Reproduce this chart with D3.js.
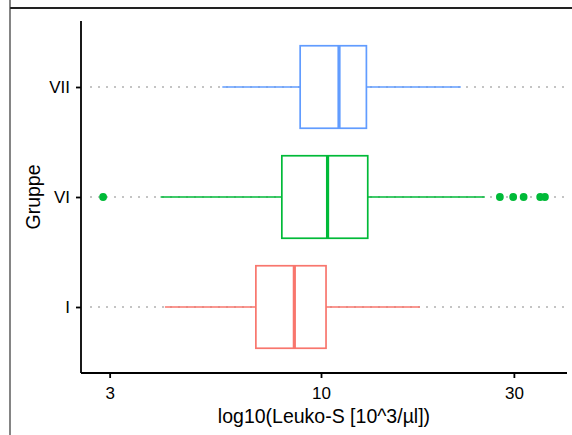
<!DOCTYPE html>
<html>
<head>
<meta charset="utf-8">
<script src="https://cdn.jsdelivr.net/npm/d3@7"></script>
<style>
  html, body { margin: 0; padding: 0; background: #fff; }
  svg { display: block; font-family: "Liberation Sans", Arial, sans-serif; }
</style>
</head>
<body>
<svg id="chart" width="572" height="435"></svg>
<script>
// Box-plot summary per group (values in 10^3/µl)
const groups = ["I", "VI", "VII"];
const colors = ["#F8766D", "#00BA38", "#619CFF"];
const lowerWhisker = [4.11, 4.01, 5.70];
const q1 = [6.90, 8.00, 8.88];
const median = [8.59, 10.38, 11.08];
const q3 = [10.29, 13.05, 12.95];
const upperWhisker = [17.57, 25.42, 22.17];
// Outlying observations (only group VI has any)
const outlierGroup = ["VI", "VI", "VI", "VI", "VI", "VI"];
const outlierValue = [2.89, 27.70, 29.88, 31.71, 34.85, 35.80];
const xTicks = [3, 10, 30];

const svg = d3.select("#chart");
const W = 572, H = 435;
const panel = { left: 81, right: 567, top: 21, bottom: 373 };

// Frame lines around the figure region
svg.append("line").attr("x1", 10).attr("x2", W).attr("y1", 8).attr("y2", 8)
  .attr("stroke", "#222").attr("stroke-width", 2);
svg.append("line").attr("x1", 10).attr("x2", 10).attr("y1", 0).attr("y2", H)
  .attr("stroke", "#333").attr("stroke-width", 1.2);

// Log x-scale with 5% expansion of the data range (in log space)
const allVals = lowerWhisker.concat(upperWhisker, outlierValue);
const lmin = Math.log10(d3.min(allVals)), lmax = Math.log10(d3.max(allVals));
const pad = (lmax - lmin) * 0.05;
const x = d3.scaleLog()
  .domain([Math.pow(10, lmin - pad), Math.pow(10, lmax + pad)])
  .range([panel.left, panel.right]);

const y = d3.scalePoint()
  .domain(["VII", "VI", "I"])
  .range([panel.top, panel.bottom])
  .padding(0.6);
const boxH = y.step() * 0.75;

// Dotted reference line at each group
svg.append("g").selectAll("line").data(groups).join("line")
  .attr("x1", panel.left + 9).attr("x2", panel.right)
  .attr("y1", d => y(d)).attr("y2", d => y(d))
  .attr("stroke", "#c4c4c4").attr("stroke-width", 2)
  .attr("stroke-dasharray", "2,6");

// Boxes
const boxes = svg.append("g").selectAll("g").data(groups).join("g")
  .attr("stroke", (d, i) => colors[i]).attr("stroke-width", 1.7).attr("fill", "white");

boxes.append("line")
  .attr("x1", (d, i) => x(lowerWhisker[i])).attr("x2", (d, i) => x(q1[i]))
  .attr("y1", d => y(d)).attr("y2", d => y(d));
boxes.append("line")
  .attr("x1", (d, i) => x(q3[i])).attr("x2", (d, i) => x(upperWhisker[i]))
  .attr("y1", d => y(d)).attr("y2", d => y(d));
boxes.append("rect")
  .attr("x", (d, i) => x(q1[i]))
  .attr("width", (d, i) => x(q3[i]) - x(q1[i]))
  .attr("y", d => y(d) - boxH / 2)
  .attr("height", boxH);
boxes.append("line")
  .attr("x1", (d, i) => x(median[i])).attr("x2", (d, i) => x(median[i]))
  .attr("y1", d => y(d) - boxH / 2).attr("y2", d => y(d) + boxH / 2)
  .attr("stroke-width", 3.2);

// Outlier points
svg.append("g").selectAll("circle").data(outlierValue).join("circle")
  .attr("cx", d => x(d))
  .attr("cy", (d, i) => y(outlierGroup[i]))
  .attr("r", 3.9)
  .attr("fill", (d, i) => colors[groups.indexOf(outlierGroup[i])]);

// Axes
const xAxis = svg.append("g").attr("transform", `translate(0,${panel.bottom})`)
  .call(d3.axisBottom(x).tickValues(xTicks).tickFormat(d3.format("d")).tickSize(5).tickSizeOuter(0));
const yAxis = svg.append("g").attr("transform", `translate(${panel.left},0)`)
  .call(d3.axisLeft(y).tickSize(5).tickSizeOuter(0));

[xAxis, yAxis].forEach(a => {
  a.select(".domain").attr("stroke", "#000").attr("stroke-width", 1.8);
  a.selectAll(".tick line").attr("stroke", "#000").attr("stroke-width", 1.8);
  a.selectAll(".tick text").attr("fill", "#000").attr("font-size", 17)
    .attr("font-family", "Liberation Sans, Arial, sans-serif");
});
xAxis.select(".domain").attr("d", `M${panel.left},0H${panel.right}`);
yAxis.select(".domain").attr("d", `M0,${panel.top}V${panel.bottom}`);
xAxis.selectAll(".tick text").attr("dy", null).attr("y", 26);
yAxis.selectAll(".tick text").attr("x", -11);

// Axis titles
svg.append("text")
  .attr("x", (panel.left + panel.right) / 2).attr("y", 423)
  .attr("text-anchor", "middle").attr("font-size", 19.5).attr("fill", "#000")
  .text("log10(Leuko-S [10^3/µl])");
svg.append("text")
  .attr("transform", `translate(40,${(panel.top + panel.bottom) / 2}) rotate(-90)`)
  .attr("text-anchor", "middle").attr("font-size", 19.5).attr("fill", "#000")
  .text("Gruppe");
</script>
</body>
</html>
